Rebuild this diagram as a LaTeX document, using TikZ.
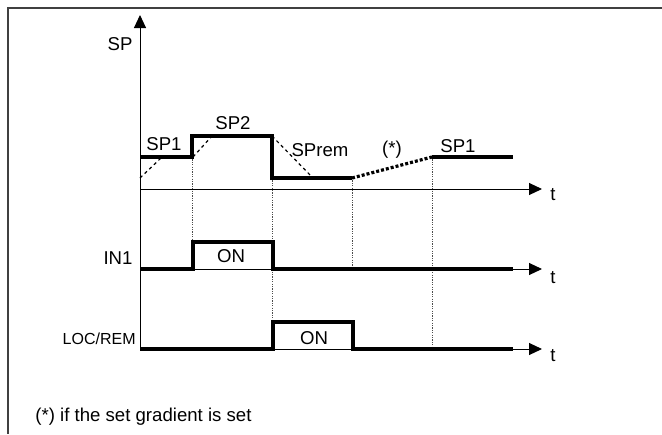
\documentclass[tikz,border=0pt]{standalone}
\usepackage{fontspec}
\setmainfont{Liberation Sans}
\usetikzlibrary{arrows.meta}
\begin{document}
\begin{tikzpicture}[x=0.5pt,y=-0.5pt,
        signal/.style={line width=1.6pt,line join=miter},
        axis/.style={line width=0.5pt,-{Triangle[length=6.5pt,width=6pt]}},
        guide/.style={line width=0.5pt,black!70,dash pattern=on 0.6pt off 0.6pt},
        ramp/.style={line width=0.6pt,dash pattern=on 1.6pt off 1.6pt},
        lbl/.style={font=\fontsize{9.3}{11}\selectfont,anchor=base,inner sep=0pt}]
        \useasboundingbox (0,0) rectangle (662,434);
        \draw[line width=1pt,black!75] (662,8) -- (8,8) -- (8,434);
        % axes
        \draw[axis] (140,349) -- (140,15);
        \draw[axis] (140,189) -- (542,189);
        \draw[axis] (140,269) -- (542,269);
        \draw[axis] (140,349) -- (542,349);
        % guides
        \draw[guide] (192,157) -- (192,242);
        \draw[guide] (272,178) -- (272,322);
        \draw[guide] (352,178) -- (352,269);
        \draw[guide] (432,157) -- (432,349);
        % ramps
        \draw[ramp] (140,178) -- (162,157);
        \draw[ramp] (193,157) -- (212,136);
        \draw[ramp] (272,136) -- (313,178);
        % SP
        \draw[signal] (140,157) -- (192,157) -- (192,136) -- (272,136) -- (272,178) -- (352,178);
        \draw[signal,dash pattern=on 1.5pt off 1pt] (352,178) -- (432,157);
        \draw[signal] (432,157) -- (513,157);
        % IN1
        \draw[signal] (140,269) -- (193,269) -- (193,242) -- (273,242) -- (273,269) -- (513,269);
        % LOC/REM
        \draw[signal] (140,349) -- (273,349) -- (273,322) -- (353,322) -- (353,349) -- (513,349);
        % labels
        \node[lbl] (sp) at (120,50) {SP};
        \node[lbl] (spa) at (164,150) {SP1};
        \node[lbl] (spb) at (233,129) {SP2};
        \node[lbl] (sprem) at (320,156) {SPrem};
        \node[lbl] (star) at (392,154) {(*)};
        \node[lbl] (spc) at (458,152) {SP1};
        \node[lbl] (ta) at (553,200) {t};
        \node[lbl] (in) at (118,264) {IN1};
        \node[lbl] (ona) at (231,262) {ON};
        \node[lbl] (tb) at (553,283) {t};
        \node[lbl,font=\fontsize{8}{10}\selectfont,anchor=base east] (loc) at (136,344) {LOC/REM};
        \node[lbl] (onb) at (314,344) {ON};
        \node[lbl] (tc) at (553,361) {t};
        \node[lbl,anchor=base west] (note) at (35,421) {(*) if the set gradient is set};
\end{tikzpicture}
\end{document}
